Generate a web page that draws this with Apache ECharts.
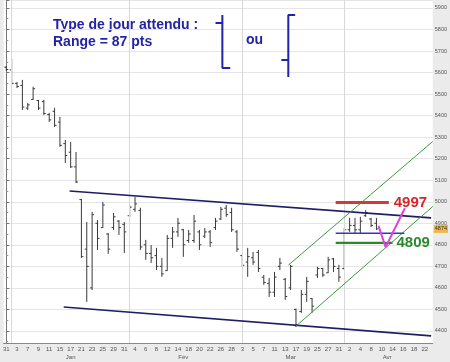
<!DOCTYPE html>
<html><head><meta charset="utf-8">
<script src="https://cdn.jsdelivr.net/npm/echarts@6/dist/echarts.min.js"></script>
<style>html,body{margin:0;padding:0;background:#ebebeb}#c{width:450px;height:362px}</style>
</head><body><div id="c"></div>
<script>
// Trading days (CAC 40, Dec 2007 - Apr 2008)
const dates = ['2007-12-31','2008-01-02','2008-01-03','2008-01-04','2008-01-07','2008-01-08','2008-01-09','2008-01-10','2008-01-11','2008-01-14','2008-01-15','2008-01-16','2008-01-17','2008-01-18','2008-01-21','2008-01-22','2008-01-23','2008-01-24','2008-01-25','2008-01-28','2008-01-29','2008-01-30','2008-01-31',
'2008-02-01','2008-02-04','2008-02-05','2008-02-06','2008-02-07','2008-02-08','2008-02-11','2008-02-12','2008-02-13','2008-02-14','2008-02-15','2008-02-18','2008-02-19','2008-02-20','2008-02-21','2008-02-22','2008-02-25','2008-02-26','2008-02-27','2008-02-28','2008-02-29',
'2008-03-03','2008-03-04','2008-03-05','2008-03-06','2008-03-07','2008-03-10','2008-03-11','2008-03-12','2008-03-13','2008-03-14','2008-03-17','2008-03-18','2008-03-19','2008-03-20','2008-03-25','2008-03-26','2008-03-27','2008-03-28','2008-03-31',
'2008-04-01','2008-04-02','2008-04-03','2008-04-04','2008-04-07','2008-04-08','2008-04-09','2008-04-10','2008-04-11','2008-04-14','2008-04-15','2008-04-16','2008-04-17','2008-04-18','2008-04-21','2008-04-22','2008-04-23'];

const opens  = [5625,5612,5550,5540,5435,5475,5470,5465,5405,5420,5370,5270,5230,5162,5010,4780,4600,4900,4880,4850,4880,4910,4895,4935,4965,4960,4800,4760,4750,4700,4680,4830,4860,4870,4820,4820,4860,4840,4860,4880,4920,4970,4950,4860,4750,4720,4740,4765,4650,4620,4580,4700,4640,4600,4500,4490,4570,4550,4660,4690,4670,4735,4690,4690,4870,4890,4870,4935,4920,4900];
const highs  = [5631,5665,5556,5566,5459,5534,5473,5473,5413,5436,5394,5287,5278,5231,5013,4906,4953,4915,4999,4855,4948,4915,4906,4985,5022,4972,4823,4799,4786,4739,4846,4883,4925,4874,4869,4939,4869,4878,4869,4925,4976,4985,4972,4869,4753,4786,4767,4776,4660,4646,4674,4739,4646,4707,4504,4590,4651,4553,4698,4693,4744,4739,4707,4878,4925,4925,4930,4962,4925,4925];
const lows   = [5607,5542,5528,5426,5426,5473,5426,5403,5371,5347,5255,5180,5157,5087,4739,4535,4590,4776,4878,4758,4869,4846,4762,4929,4953,4776,4730,4716,4683,4651,4679,4786,4837,4744,4809,4809,4776,4832,4790,4869,4915,4930,4860,4767,4697,4651,4707,4674,4614,4558,4558,4683,4544,4590,4418,4484,4535,4484,4646,4651,4669,4674,4628,4683,4860,4855,4855,4930,4883,4869];
const closes = [5614,5550,5535,5440,5450,5525,5435,5410,5380,5355,5262,5215,5162,5092,4745,4700,4940,4830,4985,4780,4930,4880,4860,4975,4990,4790,4760,4740,4700,4665,4830,4860,4900,4800,4850,4910,4800,4860,4810,4910,4965,4940,4870,4780,4705,4745,4720,4690,4625,4580,4650,4715,4560,4700,4430,4570,4630,4515,4690,4660,4730,4700,4650,4870,4890,4870,4910,4950,4890,4874];

const lastPrice = 4874;
const monthNames = ['Jan','Fév','Mar','Avr'];
const monthStartIdx = [1, 23, 44, 63];
const monthLabelIdx = [12, 33, 53, 71];

// Annotation lines, in [trading-day index, index points]
const navyTop = [[11.8, 5050], [79.2, 4925]];
const navyBottom = [[10.7, 4511], [79.2, 4377]];
const greenUpper = [[52.6, 4706], [79.5, 5280]];
const greenLower = [[53.85, 4419], [79.5, 4978]];
const resistance = [[61.4, 4997], [71.3, 4997]];
const pivot = [[61.4, 4854], [74.2, 4854]];
const support = [[61.4, 4809], [72.0, 4809]];
const scenarioV = [[69.4, 4888], [70.7, 4789], [74.3, 4970]];
const bracketLeft = [[40.28, 5867.5], [40.28, 5621.4], [41.75, 5621.4], '-', [39.0, 5830.4], [40.28, 5830.4]];
const bracketRight = [[53.85, 5867.5], [52.57, 5867.5], [52.57, 5579.6], '-', [51.28, 5658.6], [52.57, 5658.6]];

const ohlc = dates.slice(0, opens.length).map((d, i) => [i, opens[i], highs[i], lows[i], closes[i]]);

const chart = echarts.init(document.getElementById('c'), null, {renderer: 'canvas'});
const blue = '#2323a6';
function lineSeries(data, color, width, extra) {
  return Object.assign({
    type: 'line', xAxisIndex: 2, data: data, symbol: 'none', silent: true,
    lineStyle: {color: color, width: width}, animation: false, z: 5
  }, extra || {});
}
chart.setOption({
  backgroundColor: '#ebebeb',
  animation: false,
  grid: {left: 0.8, right: 13, top: 0, bottom: 19, show: true, backgroundColor: '#ffffff', borderWidth: 0},
  xAxis: [
    {type: 'category', data: dates, boundaryGap: true,
     axisLine: {lineStyle: {color: '#888'}},
     axisTick: {interval: 0, length: 2, lineStyle: {color: '#999'}},
     axisLabel: {interval: 1, fontSize: 6, color: '#555', margin: 3, fontFamily: 'Liberation Sans',
                 formatter: v => String(parseInt(v.slice(8), 10))},
     splitLine: {show: false}},
    {type: 'category', data: dates, boundaryGap: true, position: 'bottom', offset: 8,
     axisLine: {show: false}, axisTick: {show: false},
     axisLabel: {interval: (i) => monthLabelIdx.indexOf(i) >= 0, fontSize: 6, color: '#555', margin: 3, fontFamily: 'Liberation Sans',
                 formatter: v => monthNames[parseInt(v.slice(5,7),10) === 12 ? 0 : parseInt(v.slice(5,7),10) - 1]}},
    {type: 'value', min: -0.5, max: 79.5, show: false}
  ],
  yAxis: {type: 'value', position: 'right', min: 4344, max: 5937, splitNumber: 16, scale: true,
    axisLine: {show: true, lineStyle: {color: '#777'}},
    axisTick: {show: true, length: 3, lineStyle: {color: '#777'}},
    minorTick: {show: true, splitNumber: 2, length: 2, lineStyle: {color: '#999'}},
    axisLabel: {fontSize: 5.5, color: '#555', margin: 2, showMinLabel: false, showMaxLabel: false, fontFamily: 'Liberation Sans',
                formatter: v => String(v)},
    splitLine: {show: true, lineStyle: {color: '#e6e6e6', width: 1}}},
  graphic: [
    {type: 'text', left: 53, top: 18, style: {text: 'Type de jour attendu :', font: 'bold 14px "Liberation Sans"', fill: blue}},
    {type: 'text', left: 53, top: 35, style: {text: 'Range = 87 pts', font: 'bold 14px "Liberation Sans"', fill: blue}},
    {type: 'text', left: 246, top: 33, style: {text: 'ou', font: 'bold 14px "Liberation Sans"', fill: blue}}
  ],
  series: [
    {type: 'custom', xAxisIndex: 0, data: ohlc, encode: {x: 0, y: [1, 2, 3, 4]}, z: 3,
     renderItem: function (params, api) {
       const x = api.value(0);
       const o = api.coord([x, api.value(1)]);
       const h = api.coord([x, api.value(2)]);
       const l = api.coord([x, api.value(3)]);
       const c = api.coord([x, api.value(4)]);
       const st = {stroke: '#3a3a3a', lineWidth: 1};
       return {type: 'group', children: [
         {type: 'line', shape: {x1: h[0], y1: h[1], x2: l[0], y2: l[1]}, style: st},
         {type: 'line', shape: {x1: o[0] - 2, y1: o[1], x2: o[0], y2: o[1]}, style: st},
         {type: 'line', shape: {x1: c[0], y1: c[1], x2: c[0] + 2, y2: c[1]}, style: st}
       ]};
     },
     markLine: {silent: true, symbol: 'none', animation: false,
       data: [{yAxis: lastPrice, lineStyle: {color: 'rgba(0,0,0,0)', width: 0},
         label: {show: true, position: 'end', formatter: String(lastPrice), backgroundColor: '#f0b848', color: '#333', fontSize: 5.5, padding: [1, 1], distance: 1}}]}
    },
    lineSeries([[monthStartIdx[0], lastPrice]], 'transparent', 0, {
      z: 1,
      markLine: {silent: true, symbol: 'none', animation: false,
        data: monthStartIdx.map(i => ({xAxis: i, lineStyle: {color: '#d8d8d8', width: 1, type: 'solid'}, label: {show: false}}))}
    }),
    lineSeries(navyTop, '#1e1e66', 1.6),
    lineSeries(navyBottom, '#1e1e66', 1.6),
    lineSeries(greenUpper, '#3c9a3c', 1),
    lineSeries(greenLower, '#3c9a3c', 1),
    lineSeries(resistance, '#d23a3a', 3, {endLabel: {show: true, formatter: '4997', color: '#d42828', fontSize: 15, fontWeight: 'bold', fontFamily: 'Liberation Sans', distance: 5}}),
    lineSeries(pivot, '#3434c4', 1.6),
    lineSeries(support, '#2a8a2a', 2.2, {endLabel: {show: true, formatter: '4809', color: '#2a8a2a', fontSize: 15, fontWeight: 'bold', fontFamily: 'Liberation Sans', distance: 4}}),
    lineSeries(scenarioV, '#dd44dd', 2),
    lineSeries(bracketLeft, '#2323a6', 2, {connectNulls: false}),
    lineSeries(bracketRight, '#2323a6', 2, {connectNulls: false})
  ]
});
</script></body></html>
